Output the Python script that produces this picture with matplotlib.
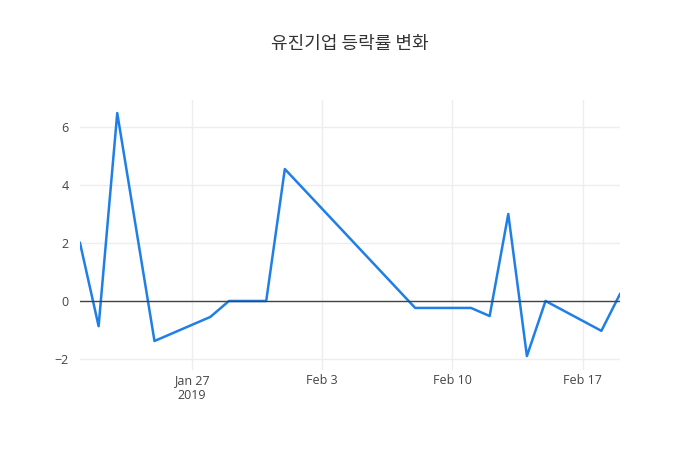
import matplotlib
matplotlib.use("Agg")
import matplotlib.pyplot as plt
import pandas as pd

dates = ["2019-01-21", "2019-01-22", "2019-01-23", "2019-01-25", "2019-01-28", "2019-01-29",
         "2019-01-31", "2019-02-01", "2019-02-08", "2019-02-11", "2019-02-12", "2019-02-13",
         "2019-02-14", "2019-02-15", "2019-02-18", "2019-02-19"]
change = [2.0, -0.87, 6.48, -1.38, -0.55, 0.0, 0.0, 4.55, -0.24, -0.24, -0.52, 3.0,
          -1.9, 0.0, -1.03, 0.24]
x = pd.to_datetime(dates)

plt.rcParams["font.family"] = ["Open Sans", "Noto Sans CJK KR", "DejaVu Sans"]
fig = plt.figure(figsize=(7, 4.5), dpi=100)
ax = fig.add_axes([80 / 700, 80 / 450, 540 / 700, 270 / 450])
ax.plot(x, change, color="#1f7fe6", lw=1.8)
ax.axhline(0, color="#444444", lw=1)
ax.set_xlim(x[0], x[-1])
ax.set_ylim(-2.38, 6.93)
ax.set_yticks([-2, 0, 2, 4, 6])
ax.set_yticklabels(["\u22122", "0", "2", "4", "6"])
ticks = pd.to_datetime(["2019-01-27", "2019-02-03", "2019-02-10", "2019-02-17"])
ax.set_xticks(ticks)
ax.set_xticklabels(["Jan 27\n2019", "Feb 3", "Feb 10", "Feb 17"])
ax.grid(True, color="#eeeeee", lw=1)
ax.set_axisbelow(True)
for s in ax.spines.values():
    s.set_visible(False)
ax.tick_params(length=0, colors="#444444", labelsize=9)
ax.tick_params(axis="x", pad=3)
ax.tick_params(axis="y", pad=8)
fig.text(0.5, 1 - 44 / 450, "유진기업 등락률 변화", ha="center", va="center",
         fontsize=13, color="#333333", family=["Noto Sans CJK KR", "DejaVu Sans"])
fig.savefig("out.png")
